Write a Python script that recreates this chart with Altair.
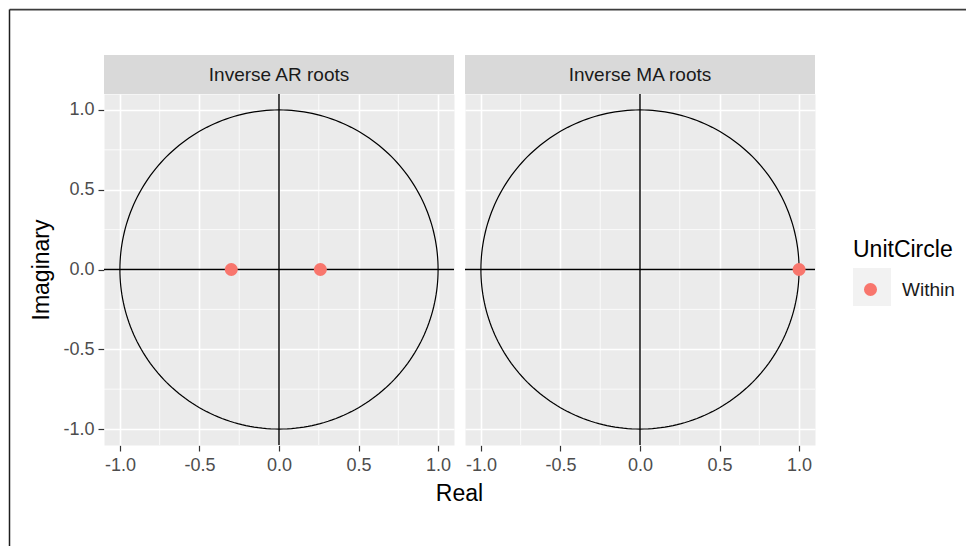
import altair as alt
import numpy as np
import pandas as pd

# ---- data ----
panels = ["Inverse AR roots", "Inverse MA roots"]
ar_real = [-0.30, 0.26]
ar_imag = [0.0, 0.0]
ma_real = [1.0]
ma_imag = [0.0]
status_label = "Within"
x_title = "Real"
major_ticks = [-1.0, -0.5, 0.0, 0.5, 1.0]
minor_ticks = [-0.75, -0.25, 0.25, 0.75]
# unit circle reference outline (geometry, not data)
circle_angle = np.linspace(0.0, 2.0 * np.pi, 241)

rows = []
for p in panels:
    for i, a in enumerate(circle_angle):
        rows.append(dict(panel=p, kind="circle", x=float(np.cos(a)), y=float(np.sin(a)), order=i))
    for m in minor_ticks:
        rows.append(dict(panel=p, kind="minor", x=m, y=m))
    rows.append(dict(panel=p, kind="zero", x=0.0, y=0.0))
    rows.append(dict(panel=p, kind="strip", label=x_title))
for r, im in zip(ar_real, ar_imag):
    rows.append(dict(panel=panels[0], kind="root", x=r, y=im, UnitCircle=status_label, key=" "))
for r, im in zip(ma_real, ma_imag):
    rows.append(dict(panel=panels[1], kind="root", x=r, y=im, UnitCircle=status_label, key=" "))
df = pd.DataFrame(rows)

W, H = 350, 351
GAP = 11
FONT = "Liberation Sans"
xs = alt.Scale(domain=[-1.1, 1.1], nice=False, zero=False)
ys = alt.Scale(domain=[-1.1, 1.1], nice=False, zero=False)
lab = "replace(format(datum.value, '.1f'), '\u2212', '-')"

axis_common = dict(
    values=major_ticks, labelExpr=lab, grid=True, gridColor="white", gridWidth=1.6,
    domain=False, tickColor="#333333", tickSize=6, tickWidth=1.2,
    labelColor="#4D4D4D", labelFontSize=18, labelFont=FONT,
    titleFontSize=23, titleFontWeight="normal", titleColor="black", titleFont=FONT,
)
xaxis = alt.Axis(title=None, labelPadding=5, **axis_common)
yaxis = alt.Axis(title="Imaginary", labelPadding=4, titlePadding=9, **axis_common)

X = lambda: alt.X("x:Q", scale=xs, axis=xaxis)
Y = lambda: alt.Y("y:Q", scale=ys, axis=yaxis)

base = alt.Chart()

is_strip = alt.datum.kind == "strip"
first_strip = (alt.datum.kind == "strip") & (alt.datum.panel == panels[0])

# screenshot frame (top and left border of the reference image)
frame_top = base.mark_rule(color="#3C3C3C", strokeWidth=1.6).encode(
    x=alt.value(-94.4), x2=alt.value(862), y=alt.value(-84.4)
).transform_filter(first_strip)
frame_left = base.mark_rule(color="#1E1E1E", strokeWidth=1.5).encode(
    x=alt.value(-94.5), y=alt.value(-84.5), y2=alt.value(452)
).transform_filter(first_strip)

strip = base.mark_rect(color="#D9D9D9").encode(
    x=alt.value(0), x2=alt.value(W), y=alt.value(-39), y2=alt.value(0)
).transform_filter(is_strip)

strip_text = base.mark_text(font=FONT, fontSize=19, color="#1A1A1A", baseline="middle").encode(
    text="panel:N", x=alt.value(W / 2), y=alt.value(-19)
).transform_filter(is_strip)

# shared x-axis title, centred under both panels
real_title = base.mark_text(font=FONT, fontSize=23, color="black", baseline="middle", align="center").encode(
    text="label:N", x=alt.value(W + GAP / 2), y=alt.value(H + 49)
).transform_filter(first_strip)

minor_v = base.mark_rule(color="white", strokeWidth=0.8).encode(x=X()).transform_filter(alt.datum.kind == "minor")
minor_h = base.mark_rule(color="white", strokeWidth=0.8).encode(y=Y()).transform_filter(alt.datum.kind == "minor")

circle = base.mark_line(color="black", strokeWidth=1.2).encode(
    x=X(), y=Y(), order="order:Q"
).transform_filter(alt.datum.kind == "circle")

zero_v = base.mark_rule(color="black", strokeWidth=1.4).encode(x=X()).transform_filter(alt.datum.kind == "zero")
zero_h = base.mark_rule(color="black", strokeWidth=1.4).encode(y=Y()).transform_filter(alt.datum.kind == "zero")

LX = 749

keybox = base.mark_point(filled=True, color="#F2F2F2", size=1, opacity=1).encode(
    x=X(), y=Y(),
    shape=alt.Shape("key:N", scale=alt.Scale(domain=[" "], range=["square"]),
                    legend=alt.Legend(title=None, orient="none", legendX=LX, legendY=174,
                                      symbolFillColor="#F2F2F2", symbolStrokeColor="#F2F2F2",
                                      symbolStrokeWidth=0, symbolSize=1444, symbolOpacity=1,
                                      labelFontSize=1, labelOpacity=0, zindex=0)),
).transform_filter(alt.datum.kind == "root")

points = base.mark_circle(size=170, opacity=1).encode(
    x=X(), y=Y(),
    color=alt.Color("UnitCircle:N", scale=alt.Scale(domain=[status_label], range=["#F8766D"]),
                    legend=alt.Legend(title="UnitCircle", orient="none", legendX=LX, legendY=145,
                                      titleFontSize=23, titleFontWeight="normal", titleColor="black",
                                      titleFont=FONT, labelFont=FONT, labelFontSize=19,
                                      labelColor="#1A1A1A", symbolType="circle", symbolSize=170,
                                      symbolStrokeWidth=0, symbolOpacity=1, titlePadding=18,
                                      labelOffset=22, symbolOffset=8, zindex=1)),
).transform_filter(alt.datum.kind == "root")

layered = alt.layer(frame_top, frame_left, strip, strip_text, real_title, minor_v, minor_h, circle,
                    zero_v, zero_h, keybox, points, data=df).properties(width=W, height=H)

chart = layered.facet(
    column=alt.Column("panel:N", sort=panels, title=None,
                      header=alt.Header(labels=False, title=None, labelPadding=0, titlePadding=0)),
    spacing=GAP,
    bounds="flush",
).properties(
    padding={"left": 0, "top": 0, "right": 0, "bottom": 0}
).configure_view(fill="#EBEBEB", stroke="transparent")

chart.save("out.html", embed_options={"renderer": "svg", "actions": False})
